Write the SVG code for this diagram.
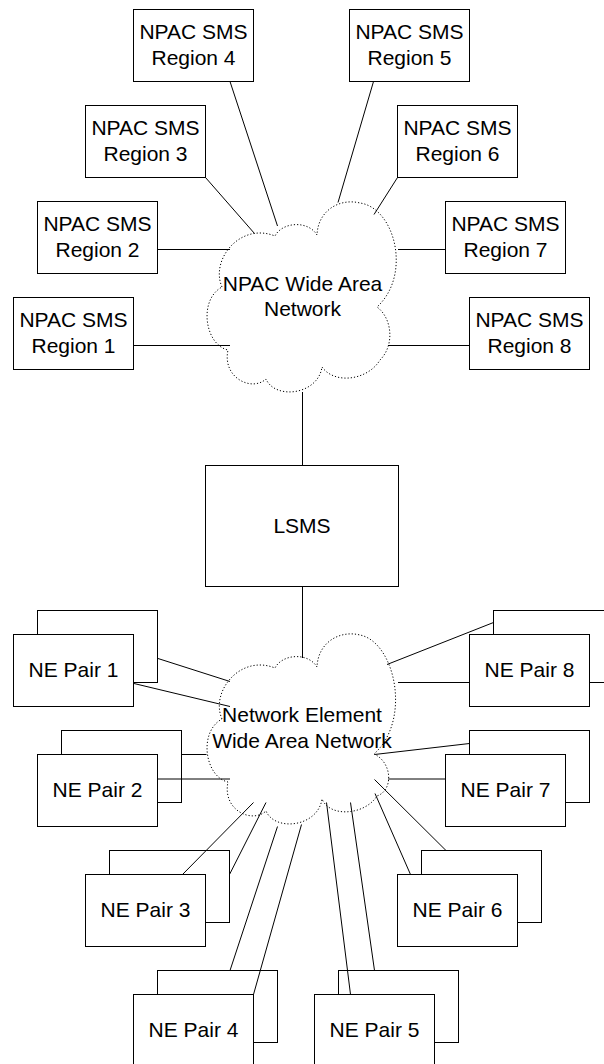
<svg xmlns="http://www.w3.org/2000/svg" width="604" height="1064" viewBox="0 0 604 1064">
<style>
  .box { fill: #fff; stroke: #000; stroke-width: 1; }
  .cloud { fill: #fff; stroke: #000; stroke-width: 1; stroke-dasharray: 1.2 2; }
  .lbl { font-family: "Liberation Sans", Arial, sans-serif; font-size: 21px; fill: #000; text-anchor: middle; }
  .conn line { stroke: #000; stroke-width: 1; }
</style>
<rect width="604" height="1064" fill="#fff"/>

<g id="npac-wan">
  <path class="cloud" d="M 222,287 C 210,260 240,222 275,236 C 282,222 308,220 317,235 C 318,210 340,198 360,203 C 395,208 412,275 377,307 C 392,318 395,345 380,360 C 368,380 335,385 322,367 C 318,395 275,400 266,379 C 252,392 222,378 228,350 C 205,345 198,300 222,287 Z"/>
  <text class="lbl" x="302.5" y="290.5">NPAC Wide Area</text>
  <text class="lbl" x="302.5" y="316">Network</text>
</g>

<g id="ne-wan">
  <path class="cloud" d="M 222,719 C 210,692 240,654 275,668 C 282,654 308,652 317,667 C 318,642 340,630 360,635 C 395,642 412,720 374,754 C 392,762 394,790 377,796 C 365,815 330,818 322,799 C 318,827 275,832 266,811 C 252,824 222,810 228,782 C 205,777 198,732 222,719 Z"/>
  <text class="lbl" x="302" y="721.5">Network Element</text>
  <text class="lbl" x="302" y="748">Wide Area Network</text>
</g>

<g id="region1"><rect class="box" x="13.5" y="297.5" width="120" height="72"/><text class="lbl" x="73.5" y="326.5">NPAC SMS</text><text class="lbl" x="73.5" y="352.5">Region 1</text></g>
<g id="region2"><rect class="box" x="37.5" y="201.5" width="120" height="72"/><text class="lbl" x="97.5" y="230.5">NPAC SMS</text><text class="lbl" x="97.5" y="256.5">Region 2</text></g>
<g id="region3"><rect class="box" x="85.5" y="105.5" width="120" height="72"/><text class="lbl" x="145.5" y="134.5">NPAC SMS</text><text class="lbl" x="145.5" y="160.5">Region 3</text></g>
<g id="region4"><rect class="box" x="133.5" y="9.5" width="120" height="72"/><text class="lbl" x="193.5" y="38.5">NPAC SMS</text><text class="lbl" x="193.5" y="64.5">Region 4</text></g>
<g id="region5"><rect class="box" x="349.5" y="9.5" width="120" height="72"/><text class="lbl" x="409.5" y="38.5">NPAC SMS</text><text class="lbl" x="409.5" y="64.5">Region 5</text></g>
<g id="region6"><rect class="box" x="397.5" y="105.5" width="120" height="72"/><text class="lbl" x="457.5" y="134.5">NPAC SMS</text><text class="lbl" x="457.5" y="160.5">Region 6</text></g>
<g id="region7"><rect class="box" x="445.5" y="201.5" width="120" height="72"/><text class="lbl" x="505.5" y="230.5">NPAC SMS</text><text class="lbl" x="505.5" y="256.5">Region 7</text></g>
<g id="region8"><rect class="box" x="469.5" y="297.5" width="120" height="72"/><text class="lbl" x="529.5" y="326.5">NPAC SMS</text><text class="lbl" x="529.5" y="352.5">Region 8</text></g>

<g id="lsms"><rect class="box" x="205.5" y="465.5" width="193" height="121"/><text class="lbl" x="302" y="533">LSMS</text></g>

<g id="ne-pair1"><rect class="box" x="37.5" y="610.5" width="120" height="72"/><rect class="box" x="13.5" y="634.5" width="120" height="72"/><text class="lbl" x="73.5" y="676.5">NE Pair 1</text></g>
<g id="ne-pair2"><rect class="box" x="61.5" y="730.5" width="120" height="72"/><rect class="box" x="37.5" y="754.5" width="120" height="72"/><text class="lbl" x="97.5" y="796.5">NE Pair 2</text></g>
<g id="ne-pair3"><rect class="box" x="109.5" y="850.5" width="120" height="72"/><rect class="box" x="85.5" y="874.5" width="120" height="72"/><text class="lbl" x="145.5" y="916.5">NE Pair 3</text></g>
<g id="ne-pair4"><rect class="box" x="157.5" y="970.5" width="120" height="72"/><rect class="box" x="133.5" y="994.5" width="120" height="72"/><text class="lbl" x="193.5" y="1036.5">NE Pair 4</text></g>
<g id="ne-pair5"><rect class="box" x="338.5" y="970.5" width="120" height="72"/><rect class="box" x="314.5" y="994.5" width="120" height="72"/><text class="lbl" x="374.5" y="1036.5">NE Pair 5</text></g>
<g id="ne-pair6"><rect class="box" x="421.5" y="850.5" width="120" height="72"/><rect class="box" x="397.5" y="874.5" width="120" height="72"/><text class="lbl" x="457.5" y="916.5">NE Pair 6</text></g>
<g id="ne-pair7"><rect class="box" x="469.5" y="730.5" width="120" height="72"/><rect class="box" x="445.5" y="754.5" width="120" height="72"/><text class="lbl" x="505.5" y="796.5">NE Pair 7</text></g>
<g id="ne-pair8"><rect class="box" x="493.5" y="610.5" width="120" height="72"/><rect class="box" x="469.5" y="634.5" width="120" height="72"/><text class="lbl" x="529.5" y="676.5">NE Pair 8</text></g>

<g id="connectors" class="conn">
  <line x1="134" y1="345.5" x2="230" y2="345.5"/>
  <line x1="158" y1="249.5" x2="230" y2="249.5"/>
  <line x1="205.5" y1="177.5" x2="254.5" y2="233.5"/>
  <line x1="230" y1="81.5" x2="277.5" y2="226"/>
  <line x1="373.5" y1="81.5" x2="338" y2="202.5"/>
  <line x1="397.5" y1="177.5" x2="374" y2="214.5"/>
  <line x1="398" y1="249.5" x2="445.5" y2="249.5"/>
  <line x1="388" y1="345.5" x2="469.5" y2="345.5"/>
  <line x1="302.5" y1="392" x2="302.5" y2="465.5"/>
  <line x1="302.5" y1="586.5" x2="302.5" y2="658"/>
  <line x1="158" y1="658.5" x2="230" y2="681.5"/>
  <line x1="134" y1="683.5" x2="230" y2="706.5"/>
  <line x1="182" y1="754.5" x2="206.5" y2="754.5"/>
  <line x1="158" y1="779" x2="230" y2="779"/>
  <line x1="182.5" y1="874.5" x2="253.5" y2="802.5"/>
  <line x1="229.5" y1="874.5" x2="266" y2="802.5"/>
  <line x1="230" y1="970.5" x2="277.5" y2="826.5"/>
  <line x1="253.5" y1="994.5" x2="301.5" y2="824.5"/>
  <line x1="350.5" y1="994.5" x2="326.5" y2="802.5"/>
  <line x1="374.5" y1="970.5" x2="350.5" y2="802.5"/>
  <line x1="410.5" y1="874.5" x2="375" y2="793.5"/>
  <line x1="446" y1="850.5" x2="374.5" y2="779.5"/>
  <line x1="469.5" y1="743.5" x2="374.5" y2="754.5"/>
  <line x1="445.5" y1="779" x2="388" y2="779"/>
  <line x1="493.5" y1="622.5" x2="387" y2="664.5"/>
  <line x1="469.5" y1="682.5" x2="398" y2="682.5"/>
</g>
</svg>
